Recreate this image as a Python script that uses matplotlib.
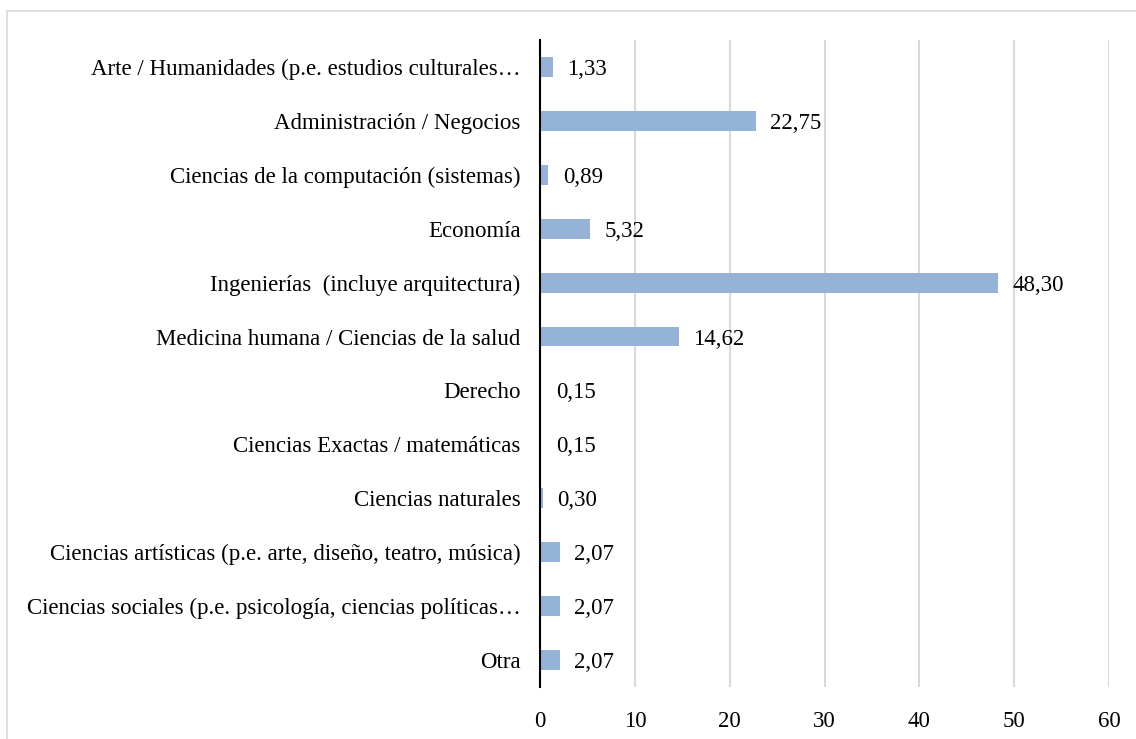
import matplotlib
matplotlib.use('Agg')
import matplotlib.pyplot as plt
from matplotlib.patches import Rectangle

categories = [
    'Arte / Humanidades (p.e. estudios culturales…',
    'Administración / Negocios',
    'Ciencias de la computación (sistemas)',
    'Economía',
    'Ingenierías  (incluye arquitectura)',
    'Medicina humana / Ciencias de la salud',
    'Derecho',
    'Ciencias Exactas / matemáticas',
    'Ciencias naturales',
    'Ciencias artísticas (p.e. arte, diseño, teatro, música)',
    'Ciencias sociales (p.e. psicología, ciencias políticas…',
    'Otra',
]
values = [1.33, 22.75, 0.89, 5.32, 48.30, 14.62, 0.15, 0.15, 0.30, 2.07, 2.07, 2.07]
xticks = [0, 10, 20, 30, 40, 50, 60]

plt.rcParams['font.family'] = ['Liberation Serif', 'DejaVu Serif']
plt.rcParams['font.size'] = 16.5

fig = plt.figure(figsize=(11.36, 7.39), dpi=100)
ax = fig.add_axes([0.4754, 0.0704, 0.5008, 0.8755])

# outer chart frame (cut off at the right and bottom in the original)
fig.patches.append(Rectangle((7 / 1136, -0.1), 1.2, 1 - 11 / 739 + 0.1,
                             transform=fig.transFigure, fill=False,
                             edgecolor='#d9d9d9', linewidth=1.2, zorder=0))

y = list(range(len(categories)))
ax.barh(y, values, height=0.37, color='#95b3d7', zorder=2)
for yi, v in zip(y, values):
    ax.text(v + 1.5, yi, f'{v:.2f}'.replace('.', ','), va='center_baseline', ha='left')

ax.set_yticks(y)
ax.set_yticklabels(categories)
ax.set_ylim(len(categories) - 0.5, -0.5)
ax.set_xlim(0, 60)
ax.set_xticks(xticks)
ax.tick_params(axis='both', length=0)
ax.tick_params(axis='x', pad=17)
ax.tick_params(axis='y', pad=14)
ax.grid(axis='x', color='#d9d9d9', linewidth=1.5, zorder=0)
ax.set_axisbelow(True)
for s in ['top', 'right', 'bottom']:
    ax.spines[s].set_visible(False)
ax.spines['left'].set_color('black')
ax.spines['left'].set_linewidth(1.5)
ax.spines['left'].set_zorder(3)

plt.savefig('out.png', dpi=100)
